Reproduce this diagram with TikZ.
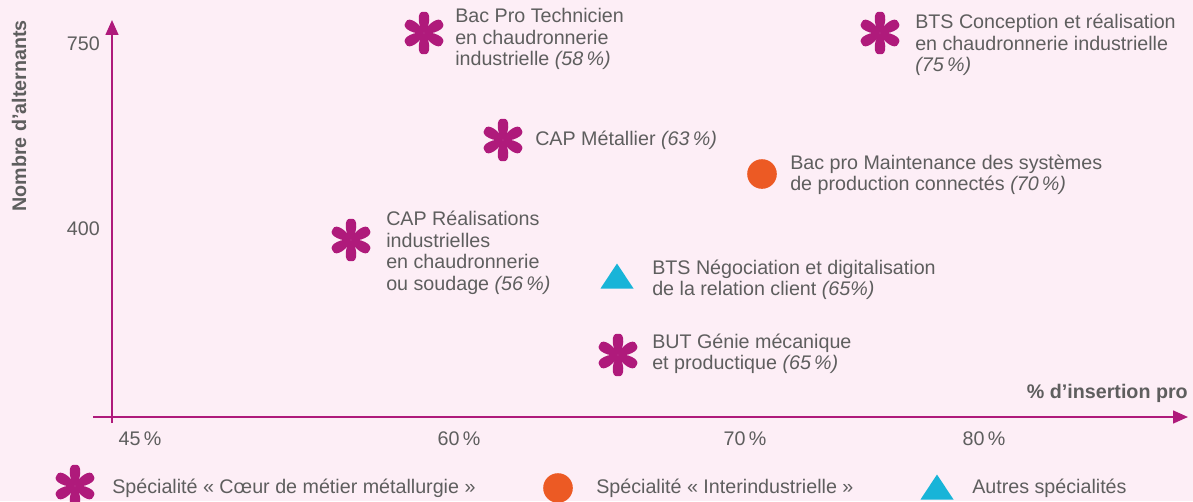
\documentclass[tikz,border=0pt]{standalone}
\usepackage{fontspec}
\setmainfont{Liberation Sans}
\usetikzlibrary{arrows.meta}
\definecolor{fond}{HTML}{FDEEF6}
\definecolor{prune}{HTML}{AF1A7B}
\definecolor{orangevif}{HTML}{EC5A24}
\definecolor{cyanvif}{HTML}{18B4D8}
\definecolor{gristexte}{HTML}{5E5E5E}
\begin{document}
\begin{tikzpicture}[x=0.025cm, y=-0.025cm,
    lbl/.style={anchor=west, align=left, inner sep=0pt, text=gristexte, font=\fontsize{14}{15.3}\selectfont},
    titre/.style={inner sep=0pt, text=gristexte, font=\bfseries\fontsize{14}{15.3}\selectfont},
    axe/.style={prune, line width=1.4pt},
    fleur/.pic={\foreach \a in {30,90,...,330}{\fill[prune,rotate=\a] (0,0) .. controls (0.12cm,0.14cm) and (0.57cm,0.21cm) .. (0.53cm,0) .. controls (0.57cm,-0.21cm) and (0.12cm,-0.14cm) .. (0,0);}},
    rond/.pic={\fill[orangevif] (0,0) circle [radius=0.37cm];},
    trig/.pic={\fill[cyanvif] (-16.5,12.5) -- (16.5,12.5) -- (0,-12.5) -- cycle;}]

\fill[fond] (0,0) rectangle (1193,501);
\useasboundingbox (0,0) rectangle (1193,501);

% axes
\coordinate (ybas) at (112,423);
\coordinate (yhaut) at (112,20);
\coordinate (xgauche) at (93,417);
\coordinate (xdroite) at (1188,417);
\draw[axe, -{Triangle[length=10.5pt,width=9pt]}] (ybas) -- (yhaut);
\draw[axe, -{Triangle[length=10.5pt,width=9pt]}] (xgauche) -- (xdroite);

\node[titre, rotate=90] (ytitre) at (19,116) {Nombre d’alternants};
\node[titre, anchor=east] (xtitre) at (1188,393) {\% d’insertion pro};

\node[lbl, anchor=east] (t750) at (100,44) {750};
\node[lbl, anchor=east] (t400) at (100,229) {400};
\node[lbl, anchor=center] (t45) at (140,439) {45\,\%};
\node[lbl, anchor=center] (t60) at (459,439) {60\,\%};
\node[lbl, anchor=center] (t70) at (745,439) {70\,\%};
\node[lbl, anchor=center] (t80) at (984,439) {80\,\%};

% points
\pic (bacprotech) at (424,33) {fleur};
\node[lbl] (lbacprotech) at (455,39) {Bac Pro Technicien\\en chaudronnerie\\industrielle \textit{(58\,\%)}};

\pic (btsconc) at (880,33) {fleur};
\node[lbl] (lbtsconc) at (915,45) {BTS Conception et réalisation\\en chaudronnerie industrielle\\\textit{(75\,\%)}};

\pic (capmet) at (503,140) {fleur};
\node[lbl] (lcapmet) at (535,140) {CAP Métallier \textit{(63\,\%)}};

\pic (bacmaint) at (762,174) {rond};
\node[lbl] (lbacmaint) at (790,175) {Bac pro Maintenance des systèmes\\de production connectés \textit{(70\,\%)}};

\pic (capreal) at (351,240) {fleur};
\node[lbl] (lcapreal) at (386,253) {CAP Réalisations\\industrielles\\en chaudronnerie\\ou soudage \textit{(56\,\%)}};

\pic (btsnego) at (617,276) {trig};
\node[lbl] (lbtsnego) at (652,280) {BTS Négociation et digitalisation\\de la relation client \textit{(65\%)}};

\pic (butgm) at (618,355) {fleur};
\node[lbl] (lbutgm) at (652,354) {BUT Génie mécanique\\et productique \textit{(65\,\%)}};

% legende
\pic (legfleur) at (75,486) {fleur};
\node[lbl] (llegfleur) at (112,488) {Spécialité « Cœur de métier métallurgie »};
\pic (legrond) at (558,488) {rond};
\node[lbl] (llegrond) at (596,488) {Spécialité « Interindustrielle »};
\pic (legtrig) at (937,487) {trig};
\node[lbl] (llegtrig) at (972,488) {Autres spécialités};

\end{tikzpicture}
\end{document}
